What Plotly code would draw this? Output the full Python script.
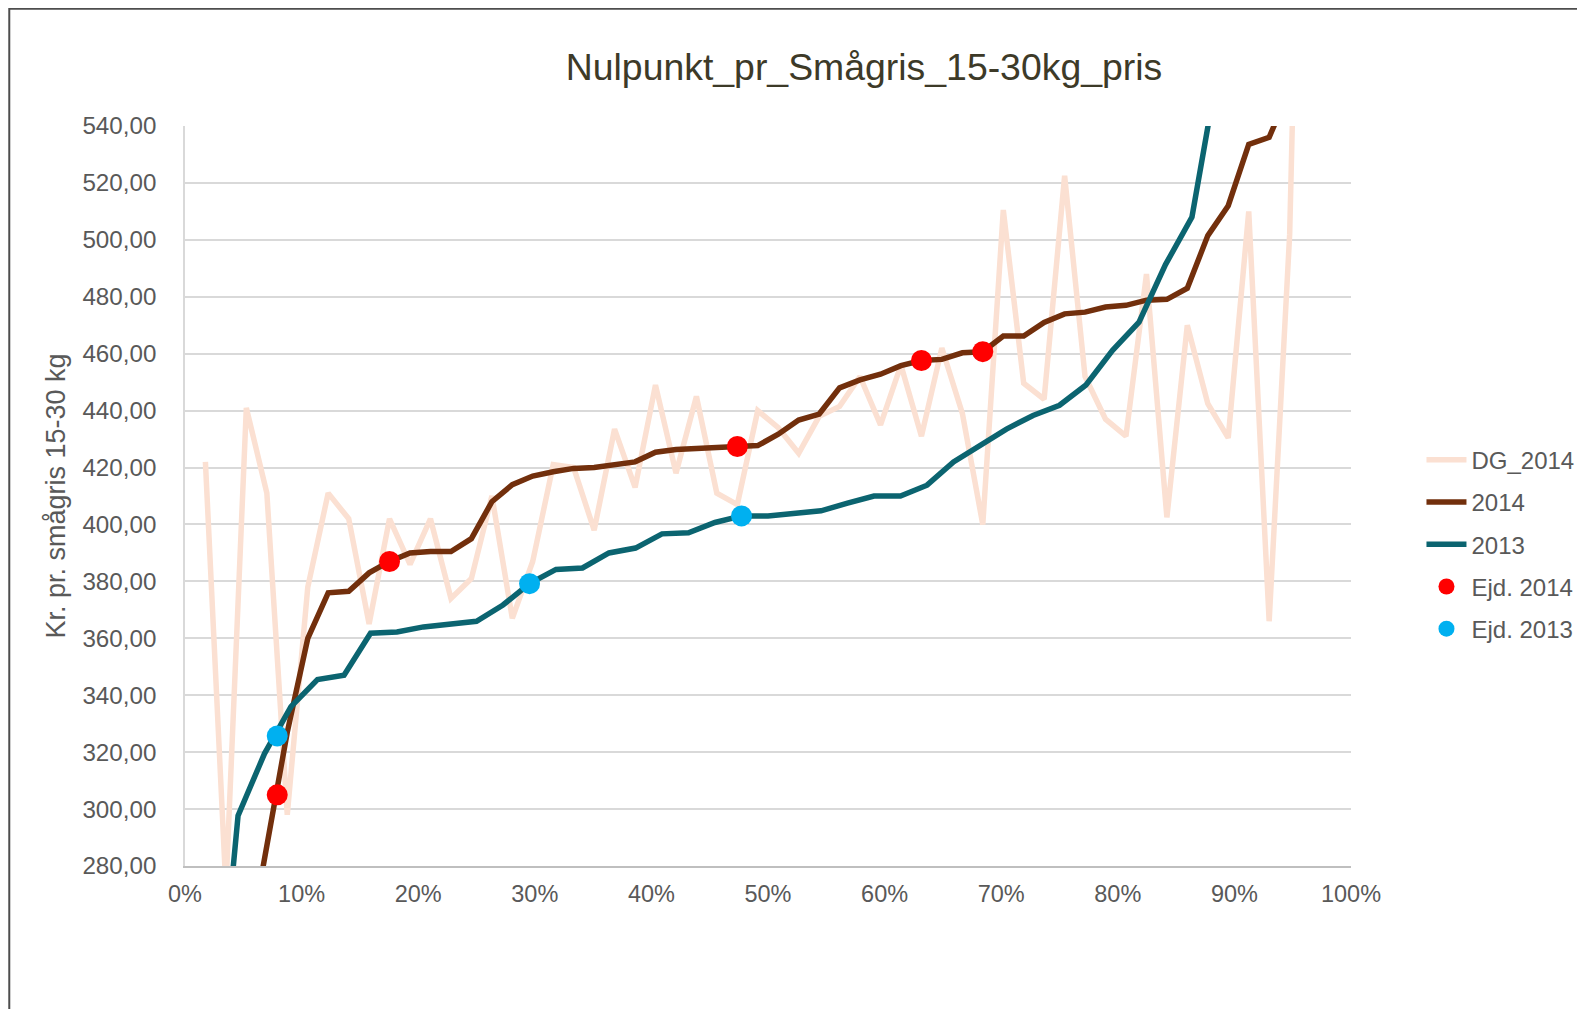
import plotly.graph_objects as go

# ---------------- data ----------------
# share of herds (rank / count) for the DG_2014 and 2014 series (57 herds)
share_dg = [0.0175, 0.0351, 0.0526, 0.0702, 0.0877, 0.1053, 0.1228, 0.1404, 0.1579, 0.1754,
            0.1930, 0.2105, 0.2281, 0.2456, 0.2632, 0.2807, 0.2982, 0.3158, 0.3333, 0.3509,
            0.3684, 0.3860, 0.4035, 0.4211, 0.4386, 0.4561, 0.4737, 0.4912, 0.5088, 0.5263,
            0.5439, 0.5614, 0.5789, 0.5965, 0.6140, 0.6316, 0.6491, 0.6667, 0.6842, 0.7018,
            0.7193, 0.7368, 0.7544, 0.7719, 0.7895, 0.8070, 0.8246, 0.8421, 0.8596, 0.8772,
            0.8947, 0.9123, 0.9298, 0.9474, 0.9649]
dg_2014 = [422, 272, 441, 411, 298, 378, 411, 402, 365, 402,
           386, 402, 374, 381, 410, 367, 387, 421, 420, 398,
           433.5, 413, 449, 418, 445, 411, 407, 440, 434, 425,
           438, 441.5, 452, 435, 456, 431, 462, 439, 400, 510.5,
           449.6, 444, 522.5, 452, 437, 431, 488, 402.5, 470, 442.4,
           430.4, 510, 366, 502, 800]

share_2014 = [0.0526, 0.0702, 0.0877, 0.1053, 0.1228, 0.1404, 0.1579, 0.1754,
              0.1930, 0.2105, 0.2281, 0.2456, 0.2632, 0.2807, 0.2982, 0.3158, 0.3333, 0.3509,
              0.3684, 0.3860, 0.4035, 0.4211, 0.4386, 0.4561, 0.4737, 0.4912, 0.5088, 0.5263,
              0.5439, 0.5614, 0.5789, 0.5965, 0.6140, 0.6316, 0.6491, 0.6667, 0.6842, 0.7018,
              0.7193, 0.7368, 0.7544, 0.7719, 0.7895, 0.8070, 0.8246, 0.8421, 0.8596, 0.8772,
              0.8947, 0.9123, 0.9298, 0.9474]
val_2014 = [247, 287, 327, 360, 376, 376.5, 383, 387,
            390, 390.5, 390.5, 395, 408, 414, 417, 418.5, 419.7, 420,
            421, 422, 425.4, 426.3, 426.7, 427.2, 427.4, 427.7, 431.7, 436.7,
            438.8, 448, 450.8, 452.8, 455.8, 457.6, 458, 460.3, 460.7, 466.2,
            466.2, 471, 474, 474.6, 476.4, 477, 478.8, 479.1, 483, 501.5,
            512, 533.5, 536, 553]

# 2013 series (44 herds)
share_2013 = [0.0227, 0.0455, 0.0682, 0.0909, 0.1136, 0.1364, 0.1591, 0.1818, 0.2045, 0.2273,
              0.2500, 0.2727, 0.2955, 0.3182, 0.3409, 0.3636, 0.3864, 0.4091, 0.4318, 0.4545,
              0.4773, 0.5000, 0.5227, 0.5455, 0.5682, 0.5909, 0.6136, 0.6364, 0.6591, 0.6818,
              0.7045, 0.7273, 0.7500, 0.7727, 0.7955, 0.8182, 0.8409, 0.8636, 0.8864]
val_2013 = [198, 297.7, 319.5, 336, 345.5, 347, 361.8, 362.2, 364, 365.1,
            366, 371.7, 379.2, 384.2, 384.7, 390, 391.7, 396.7, 397.1, 400.7,
            403, 403, 403.9, 404.8, 407.5, 410, 410, 413.8, 422, 427.6,
            433.5, 438.3, 441.9, 449, 461.2, 471.1, 491.3, 508, 561]

# own herd (Ejd.) points
ejd_2014_x = [0.0791, 0.1754, 0.4737, 0.6316, 0.6842]
ejd_2014_y = [305, 387, 427.4, 457.6, 460.7]
ejd_2013_x = [0.0791, 0.2955, 0.4773]
ejd_2013_y = [325.7, 379.2, 403]

y_ticks = [280, 300, 320, 340, 360, 380, 400, 420, 440, 460, 480, 500, 520, 540]
x_ticks = [0, 0.1, 0.2, 0.3, 0.4, 0.5, 0.6, 0.7, 0.8, 0.9, 1.0]

# ---------------- figure ----------------
W, H = 1585, 1009
O = 8  # page body margin offset
L, R, T, B = 185, 1351.5, 126.4, 866

def px_x(X):
    return (X - L) / (R - L)

def px_y(Y):
    return (B - Y) / (B - T)

fig = go.Figure()
fig.add_trace(go.Scatter(x=share_dg, y=dg_2014, mode="lines", name="DG_2014",
                         line=dict(color="#FBE0D2", width=5.5), legendgroup="a"))
fig.add_trace(go.Scatter(x=share_2014, y=val_2014, mode="lines", name="2014",
                         line=dict(color="#722F0C", width=5.5), legendgroup="b"))
fig.add_trace(go.Scatter(x=share_2013, y=val_2013, mode="lines", name="2013",
                         line=dict(color="#0B6470", width=5.5), legendgroup="c"))
fig.add_trace(go.Scatter(x=ejd_2014_x, y=ejd_2014_y, mode="markers", name="Ejd. 2014",
                         marker=dict(color="#FF0000", size=21), legendgroup="d"))
fig.add_trace(go.Scatter(x=ejd_2013_x, y=ejd_2013_y, mode="markers", name="Ejd. 2013",
                         marker=dict(color="#00B0F0", size=21), legendgroup="e"))

FONT = "Liberation Sans, Arial, sans-serif"
x_font = dict(family=FONT, size=23.5, color="#595959")
y_font = dict(family=FONT, size=24.2, color="#595959")

FW = W  # figure width (page overflow on the right is outside the window)
fig.update_layout(
    width=FW, height=H - O,
    margin=dict(l=L - O, r=FW - (R - O), t=T - O, b=H - B, pad=0),
    paper_bgcolor="white", plot_bgcolor="white",
    separators=",.",
    title=dict(text="Nulpunkt_pr_Smågris_15-30kg_pris",
               x=(864 - O) / FW, xref="container", xanchor="center",
               y=1 - (67 - O) / (H - O), yref="container", yanchor="middle",
               font=dict(family=FONT, size=37.4, color="#3D3A28")),
    xaxis=dict(range=[0, 1], tickvals=x_ticks, tickformat=".0%", showgrid=False,
               zeroline=False, showline=True, linecolor="#BFBFBF", linewidth=1.5,
               ticks="", tickfont=x_font, ticklabelstandoff=6),
    yaxis=dict(range=[280, 540], tickvals=y_ticks, tickformat=".2f", showgrid=True,
               gridcolor="#D9D9D9", gridwidth=1.5, zeroline=False, showline=True,
               linecolor="#D9D9D9", linewidth=1.5, ticks="", tickfont=y_font,
               ticklabelstandoff=22,
               title=dict(text="Kr. pr. smågris 15-30 kg", standoff=9,
                          font=dict(family=FONT, size=27, color="#595959"))),
    legend=dict(x=px_x(1422), xanchor="left", y=px_y(438), yanchor="top",
                font=dict(family=FONT, size=24, color="#595959"),
                traceorder="grouped", tracegroupgap=8, itemwidth=40,
                bgcolor="rgba(0,0,0,0)"),
    showlegend=True,
)

# chart-area border (Excel style), kept just inside the figure's top-left edge
fig.add_shape(type="rect", xref="paper", yref="paper",
              x0=px_x(O + 1.2), x1=px_x(1700), y0=px_y(1100), y1=px_y(O + 1.2),
              line=dict(color="#4D4D4D", width=2), fillcolor="rgba(0,0,0,0)", layer="below")

fig.write_html("out.html")
